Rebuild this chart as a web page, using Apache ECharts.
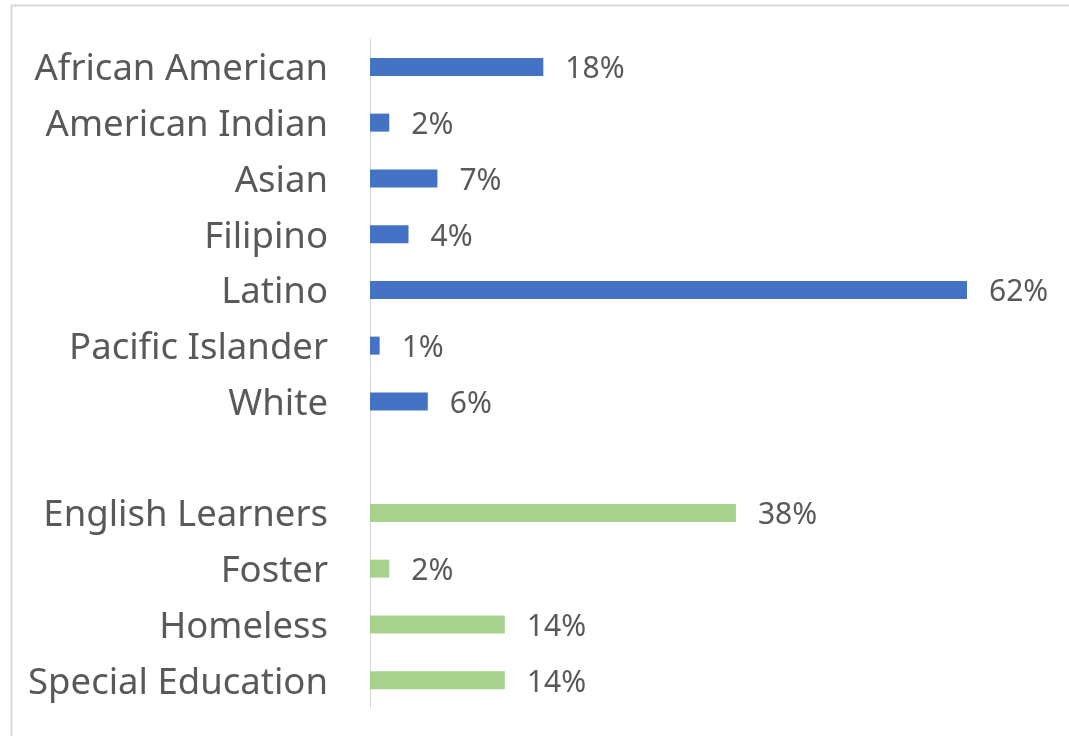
<!DOCTYPE html>
<html>
<head>
<meta charset="utf-8">
<script src="https://cdn.jsdelivr.net/npm/echarts@6/dist/echarts.min.js"></script>
<style>
html,body{margin:0;padding:0;background:#fff;}
#chart{width:1069px;height:736px;}
</style>
</head>
<body>
<div id="chart"></div>
<script>
const categories = ['African American','American Indian','Asian','Filipino','Latino','Pacific Islander','White','','English Learners','Foster','Homeless','Special Education'];
const values = [18, 2, 7, 4, 62, 1, 6, null, 38, 2, 14, 14];
const groups = ['eth','eth','eth','eth','eth','eth','eth','','oth','oth','oth','oth'];
const groupColors = {eth:'#4472C4', oth:'#A9D18E', '':'#ffffff'};

const chart = echarts.init(document.getElementById('chart'));
chart.setOption({
  animation:false,
  backgroundColor:'#fff',
  graphic:[
    {type:'line', shape:{x1:11,y1:5.5,x2:1069,y2:5.5}, style:{stroke:'#d9d9d9',lineWidth:2}},
    {type:'line', shape:{x1:11.5,y1:5,x2:11.5,y2:736}, style:{stroke:'#d9d9d9',lineWidth:2}}
  ],
  grid:{left:370, top:39, width:597, height:669, containLabel:false},
  xAxis:{type:'value', min:0, max:62, show:false},
  yAxis:{
    type:'category', data:categories, inverse:true,
    axisLine:{show:true, lineStyle:{color:'#d9d9d9', width:1}},
    axisTick:{show:false},
    axisLabel:{fontFamily:'Noto Sans', fontSize:36.5, color:'#595959', margin:42,
      formatter:v=> v ? '{a|' + v + '}' : '',
      rich:{a:{fontFamily:'Noto Sans', fontSize:36.5, color:'#595959', padding:[6,0,0,0]}}}
  },
  series:[{
    type:'bar', barWidth:18,
    data: values.map((v,i)=>({value:v, itemStyle:{color:groupColors[groups[i]]}})),
    label:{show:true, position:'right', distance:22, offset:[0,3], fontFamily:'Noto Sans', fontSize:30, color:'#595959',
      formatter:p=> p.value==null ? '' : p.value + '%'}
  }]
});
</script>
</body>
</html>
